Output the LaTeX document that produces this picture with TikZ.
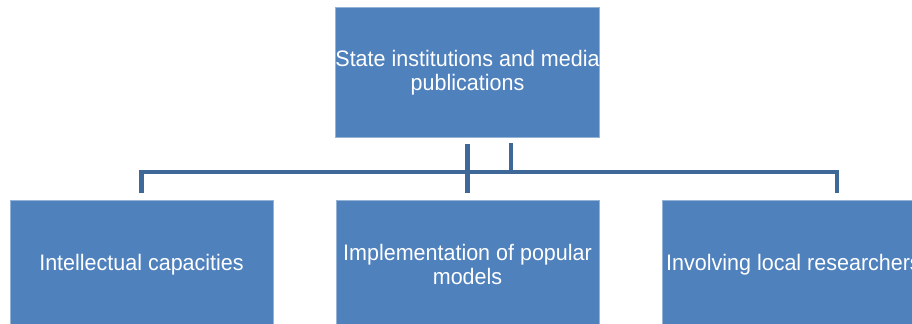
\documentclass[tikz,border=0pt]{standalone}
\usepackage{fontspec}
\setmainfont{Liberation Sans}[FakeStretch=0.96]
\usetikzlibrary{positioning}

\definecolor{boxblue}{RGB}{79,129,189}
\definecolor{boxrim}{RGB}{149,179,215}
\definecolor{busblue}{RGB}{62,104,152}

\begin{document}
\begin{tikzpicture}[x=0.75pt,y=0.75pt,yscale=-1,xscale=1,
  block/.style={draw=boxrim,line width=0.75pt,fill=boxblue,text=white,
    minimum width=197.25pt,minimum height=96.75pt,inner sep=0pt,align=center,
    font=\fontsize{16.8}{18}\selectfont},
  bus/.style={draw=busblue,line width=3.6pt}]
%set diagram to 912 x 324
\clip (0,0) rectangle (912,324);

%Shape: Rectangle (top)
\node [block] (top) at (467.5,72.5) {State institutions and media\\publications};
%Shape: Rectangle (bottom row)
\node [block] (left) at (141.5,264.5) {Intellectual capacities};
\node [block] (mid) at (467.5,264.5) {Implementation of popular\\models};
\node [block] (right) at (793.5,264.5) {Involving local researchers};

%Connector ends
\coordinate [below=4.5pt of top] (topfoot);
\coordinate [above=5.25pt of mid] (midhead);
\coordinate [above=5.25pt of left] (lefthead);
\coordinate (righthead) at (837,193);
\coordinate (stub) at (511,143);
\coordinate (busleft) at (141.5,172);
\coordinate (busright) at (837,172);

%Straight Lines
\draw [bus] (topfoot) -- (midhead);
\draw [bus] (stub) -- (stub |- busleft);
\draw [bus] (lefthead) -- (busleft) -- (busright) -- (righthead);

\end{tikzpicture}
\end{document}
